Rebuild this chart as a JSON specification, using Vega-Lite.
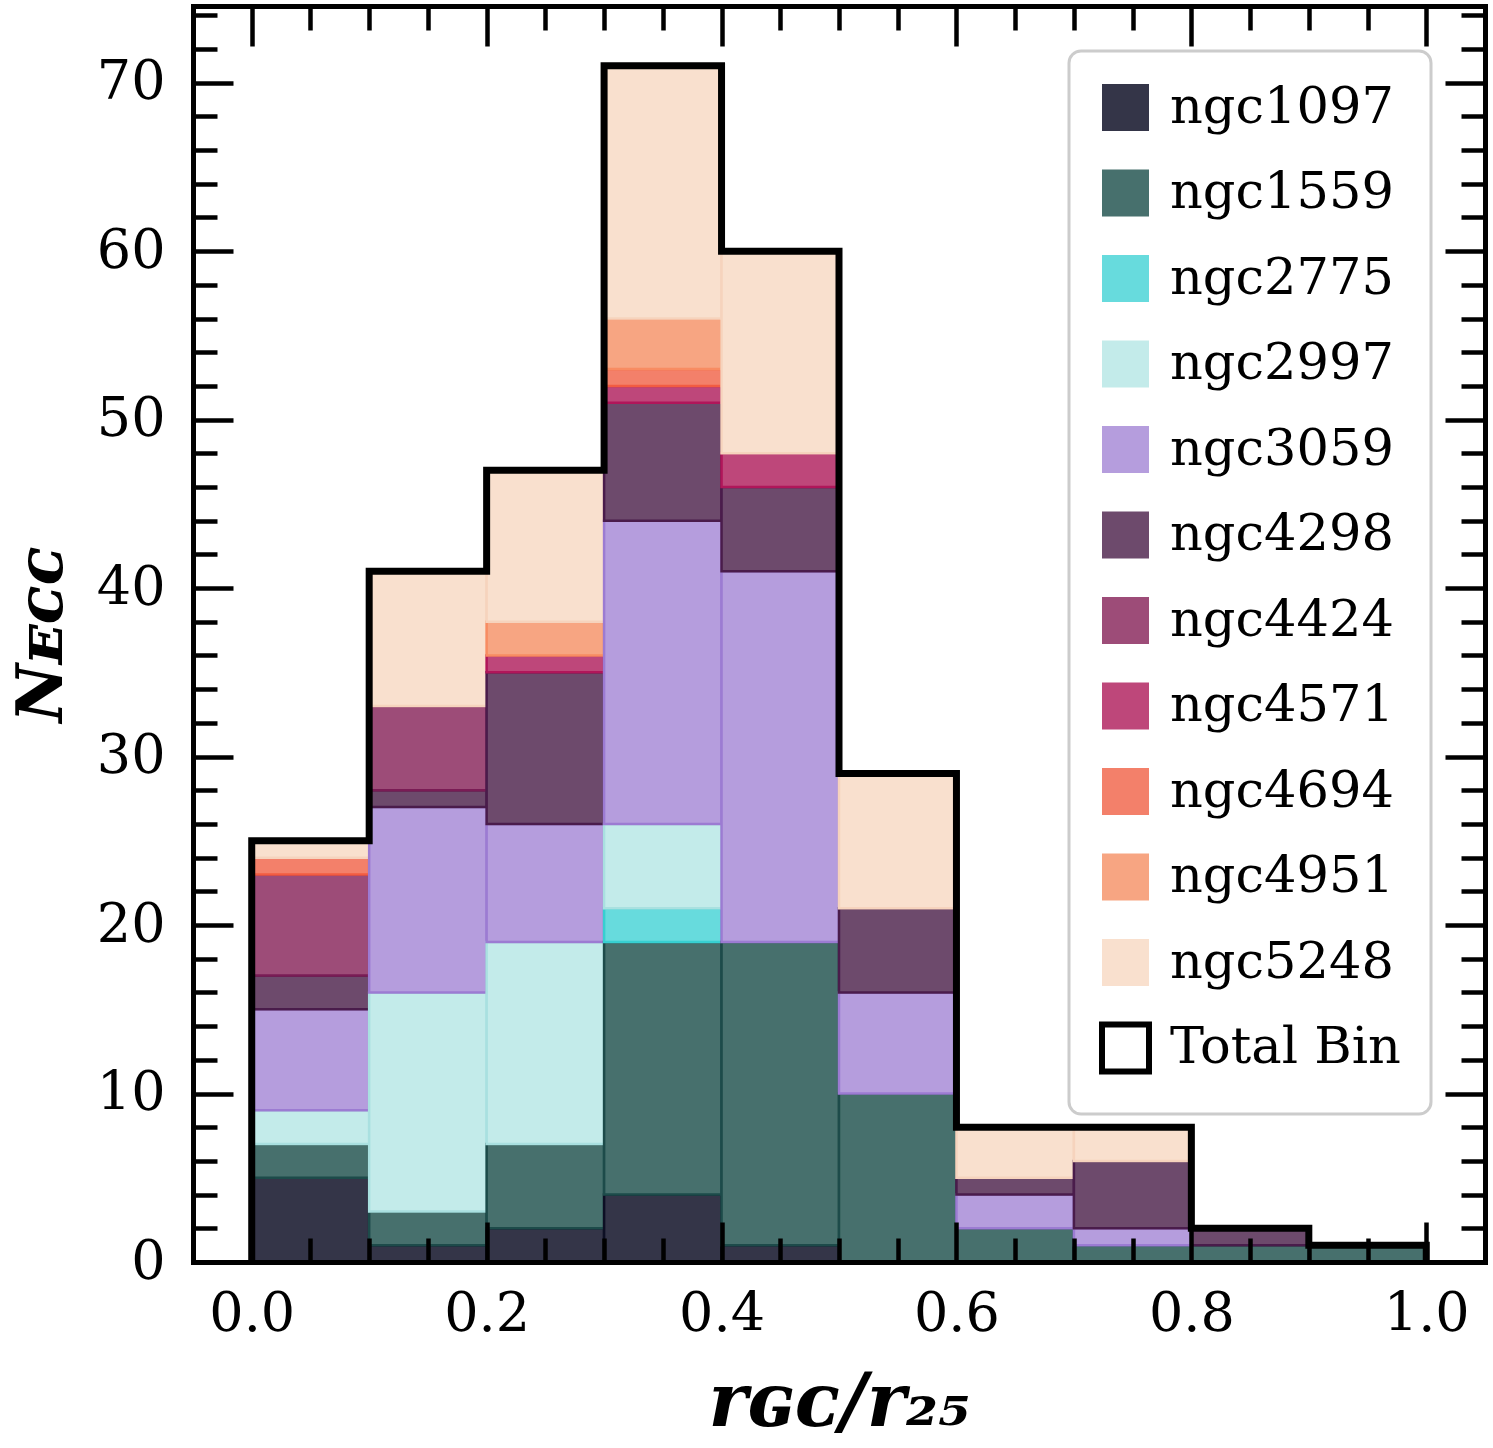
{
  "$schema": "https://vega.github.io/schema/vega-lite/v6.json",
  "autosize": {"type": "none"},
  "padding": {"left": 193, "top": 6, "right": 8, "bottom": 186},
  "width": 1292,
  "height": 1256,
  "background": "white",
  "config": {"view": {"stroke": null}, "font": "DejaVu Serif"},
  "datasets": {
    "bins": [
      {"r0": 0.0, "r1": 0.1, "galaxy": "ngc1097", "n": 5},
      {"r0": 0.0, "r1": 0.1, "galaxy": "ngc1559", "n": 2},
      {"r0": 0.0, "r1": 0.1, "galaxy": "ngc2997", "n": 2},
      {"r0": 0.0, "r1": 0.1, "galaxy": "ngc3059", "n": 6},
      {"r0": 0.0, "r1": 0.1, "galaxy": "ngc4298", "n": 2},
      {"r0": 0.0, "r1": 0.1, "galaxy": "ngc4424", "n": 6},
      {"r0": 0.0, "r1": 0.1, "galaxy": "ngc4694", "n": 1},
      {"r0": 0.0, "r1": 0.1, "galaxy": "ngc5248", "n": 1},
      {"r0": 0.1, "r1": 0.2, "galaxy": "ngc1097", "n": 1},
      {"r0": 0.1, "r1": 0.2, "galaxy": "ngc1559", "n": 2},
      {"r0": 0.1, "r1": 0.2, "galaxy": "ngc2997", "n": 13},
      {"r0": 0.1, "r1": 0.2, "galaxy": "ngc3059", "n": 11},
      {"r0": 0.1, "r1": 0.2, "galaxy": "ngc4298", "n": 1},
      {"r0": 0.1, "r1": 0.2, "galaxy": "ngc4424", "n": 5},
      {"r0": 0.1, "r1": 0.2, "galaxy": "ngc5248", "n": 8},
      {"r0": 0.2, "r1": 0.3, "galaxy": "ngc1097", "n": 2},
      {"r0": 0.2, "r1": 0.3, "galaxy": "ngc1559", "n": 5},
      {"r0": 0.2, "r1": 0.3, "galaxy": "ngc2997", "n": 12},
      {"r0": 0.2, "r1": 0.3, "galaxy": "ngc3059", "n": 7},
      {"r0": 0.2, "r1": 0.3, "galaxy": "ngc4298", "n": 9},
      {"r0": 0.2, "r1": 0.3, "galaxy": "ngc4571", "n": 1},
      {"r0": 0.2, "r1": 0.3, "galaxy": "ngc4951", "n": 2},
      {"r0": 0.2, "r1": 0.3, "galaxy": "ngc5248", "n": 9},
      {"r0": 0.3, "r1": 0.4, "galaxy": "ngc1097", "n": 4},
      {"r0": 0.3, "r1": 0.4, "galaxy": "ngc1559", "n": 15},
      {"r0": 0.3, "r1": 0.4, "galaxy": "ngc2775", "n": 2},
      {"r0": 0.3, "r1": 0.4, "galaxy": "ngc2997", "n": 5},
      {"r0": 0.3, "r1": 0.4, "galaxy": "ngc3059", "n": 18},
      {"r0": 0.3, "r1": 0.4, "galaxy": "ngc4298", "n": 7},
      {"r0": 0.3, "r1": 0.4, "galaxy": "ngc4571", "n": 1},
      {"r0": 0.3, "r1": 0.4, "galaxy": "ngc4694", "n": 1},
      {"r0": 0.3, "r1": 0.4, "galaxy": "ngc4951", "n": 3},
      {"r0": 0.3, "r1": 0.4, "galaxy": "ngc5248", "n": 15},
      {"r0": 0.4, "r1": 0.5, "galaxy": "ngc1097", "n": 1},
      {"r0": 0.4, "r1": 0.5, "galaxy": "ngc1559", "n": 18},
      {"r0": 0.4, "r1": 0.5, "galaxy": "ngc3059", "n": 22},
      {"r0": 0.4, "r1": 0.5, "galaxy": "ngc4298", "n": 5},
      {"r0": 0.4, "r1": 0.5, "galaxy": "ngc4571", "n": 2},
      {"r0": 0.4, "r1": 0.5, "galaxy": "ngc5248", "n": 12},
      {"r0": 0.5, "r1": 0.6, "galaxy": "ngc1559", "n": 10},
      {"r0": 0.5, "r1": 0.6, "galaxy": "ngc3059", "n": 6},
      {"r0": 0.5, "r1": 0.6, "galaxy": "ngc4298", "n": 5},
      {"r0": 0.5, "r1": 0.6, "galaxy": "ngc5248", "n": 8},
      {"r0": 0.6, "r1": 0.7, "galaxy": "ngc1559", "n": 2},
      {"r0": 0.6, "r1": 0.7, "galaxy": "ngc3059", "n": 2},
      {"r0": 0.6, "r1": 0.7, "galaxy": "ngc4298", "n": 1},
      {"r0": 0.6, "r1": 0.7, "galaxy": "ngc5248", "n": 3},
      {"r0": 0.7, "r1": 0.8, "galaxy": "ngc1559", "n": 1},
      {"r0": 0.7, "r1": 0.8, "galaxy": "ngc3059", "n": 1},
      {"r0": 0.7, "r1": 0.8, "galaxy": "ngc4298", "n": 4},
      {"r0": 0.7, "r1": 0.8, "galaxy": "ngc5248", "n": 2},
      {"r0": 0.8, "r1": 0.9, "galaxy": "ngc1559", "n": 1},
      {"r0": 0.8, "r1": 0.9, "galaxy": "ngc4298", "n": 1},
      {"r0": 0.9, "r1": 1.0, "galaxy": "ngc1559", "n": 1}
    ],
    "totals": [
      {"r": 0.0, "n": 0},
      {"r": 0.0, "n": 25},
      {"r": 0.1, "n": 41},
      {"r": 0.2, "n": 47},
      {"r": 0.3, "n": 71},
      {"r": 0.4, "n": 60},
      {"r": 0.5, "n": 29},
      {"r": 0.6, "n": 8},
      {"r": 0.7, "n": 8},
      {"r": 0.8, "n": 2},
      {"r": 0.9, "n": 1},
      {"r": 1.0, "n": 0}
    ]
  },
  "resolve": {"scale": {"x": "independent", "y": "independent"}},
  "layer": [
    {
      "data": {"name": "bins"},
      "transform": [
        {"stack": "n", "groupby": ["r0"], "sort": [{"field": "galaxy", "order": "ascending"}], "as": ["n_lo", "n_hi"]}
      ],
      "mark": {"type": "bar", "strokeWidth": 2.5, "opacity": 1},
      "encoding": {
        "x": {
          "field": "r0", "type": "quantitative",
          "scale": {"domain": [-0.05, 1.05], "nice": false, "zero": false},
          "axis": {
            "orient": "bottom",
            "values": [0, 0.05, 0.1, 0.15, 0.2, 0.25, 0.3, 0.35, 0.4, 0.45, 0.5, 0.55, 0.6, 0.65, 0.7, 0.75, 0.8, 0.85, 0.9, 0.95, 1],
            "tickSize": {"condition": {"test": "abs(datum.value*5 - round(datum.value*5)) < 0.001", "value": -40}, "value": -24},
            "tickWidth": 4.5, "tickColor": "black",
            "labelExpr": "abs(datum.value*5 - round(datum.value*5)) < 0.001 ? format(datum.value, '.1f') : ''",
            "labelFontSize": 54, "labelFont": "DejaVu Serif", "labelColor": "black",
            "labelPadding": 65, "labelOverlap": false, "labelFlush": false,
            "domain": true, "domainWidth": 5, "domainColor": "black", "domainCap": "square",
            "grid": false, "zindex": 1,
            "title": "rɢᴄ/r₂₅", "titleFontSize": 74, "titleFont": "DejaVu Serif",
            "titleFontStyle": "italic", "titleFontWeight": "bold", "titleColor": "black", "titlePadding": 10
          }
        },
        "x2": {"field": "r1"},
        "y": {
          "field": "n_lo", "type": "quantitative",
          "scale": {"domain": [0, 74.55], "nice": false},
          "axis": {
            "orient": "left",
            "values": [0, 2, 4, 6, 8, 10, 12, 14, 16, 18, 20, 22, 24, 26, 28, 30, 32, 34, 36, 38, 40, 42, 44, 46, 48, 50, 52, 54, 56, 58, 60, 62, 64, 66, 68, 70, 72, 74],
            "tickSize": {"condition": {"test": "datum.value % 10 === 0", "value": -40}, "value": -24},
            "tickWidth": 4.5, "tickColor": "black",
            "labelExpr": "datum.value % 10 === 0 ? datum.label : ''",
            "labelFontSize": 54, "labelFont": "DejaVu Serif", "labelColor": "black",
            "labelPadding": 68, "labelOverlap": false, "labelFlush": false,
            "domain": true, "domainWidth": 5, "domainColor": "black", "domainCap": "square",
            "grid": false, "zindex": 1,
            "title": "Nᴇᴄᴄ", "titleFontSize": 64, "titleFont": "DejaVu Serif",
            "titleFontStyle": "italic", "titleFontWeight": "bold", "titleColor": "black", "titlePadding": 22
          }
        },
        "y2": {"field": "n_hi"},
        "fill": {
          "field": "galaxy", "type": "nominal",
          "scale": {
            "domain": ["ngc1097", "ngc1559", "ngc2775", "ngc2997", "ngc3059", "ngc4298", "ngc4424", "ngc4571", "ngc4694", "ngc4951", "ngc5248", "Total Bin"],
            "range": ["#343548", "#47706d", "#67dbdd", "#c3ebea", "#b59ddd", "#6d4a6c", "#9d4c78", "#be477a", "#f3806a", "#f7a582", "#f9e0ce", "#ffffff"]
          },
          "legend": {
            "orient": "none", "legendX": 876, "legendY": 45,
            "title": null, "symbolType": "square", "symbolSize": 2209,
            "labelFontSize": 51, "labelFont": "DejaVu Serif", "labelColor": "black", "labelLimit": 500,
            "labelOffset": 18, "rowPadding": 14.5, "padding": 30,
            "fillColor": "white", "strokeColor": "#cccccc", "cornerRadius": 12,
            "symbolOpacity": 1,
            "encode": {
              "symbols": {"update": {
                "strokeWidth": {"value": 6},
                "stroke": {"value": "#000000"},
                "strokeOpacity": {"signal": "datum.value === 'Total Bin' ? 1 : 0.001"}
              }},
              "legend": {"update": {"strokeWidth": {"value": 3}}}
            }
          }
        },
        "stroke": {
          "field": "galaxy", "type": "nominal",
          "scale": {
            "domain": ["ngc1097", "ngc1559", "ngc2775", "ngc2997", "ngc3059", "ngc4298", "ngc4424", "ngc4571", "ngc4694", "ngc4951", "ngc5248", "Total Bin"],
            "range": ["#0d0f24", "#1d4b4a", "#37cfd1", "#a9e0e0", "#9c7bd2", "#4a1c4b", "#7a1c55", "#b0165a", "#f25c42", "#f88c62", "#f6d3bd", "#000000"]
          },
          "legend": null
        }
      }
    },
    {
      "data": {"name": "totals"},
      "mark": {"type": "line", "interpolate": "step-after", "color": "black", "strokeWidth": 7, "strokeJoin": "miter", "strokeCap": "butt"},
      "encoding": {
        "x": {
          "field": "r", "type": "quantitative",
          "scale": {"domain": [-0.05, 1.05], "nice": false, "zero": false},
          "axis": {
            "orient": "top",
            "values": [0, 0.05, 0.1, 0.15, 0.2, 0.25, 0.3, 0.35, 0.4, 0.45, 0.5, 0.55, 0.6, 0.65, 0.7, 0.75, 0.8, 0.85, 0.9, 0.95, 1],
            "tickSize": {"condition": {"test": "abs(datum.value*5 - round(datum.value*5)) < 0.001", "value": -40}, "value": -24},
            "tickWidth": 4.5, "tickColor": "black",
            "labels": false,
            "domain": true, "domainWidth": 5, "domainColor": "black", "domainCap": "square",
            "grid": false, "zindex": 1, "title": null
          }
        },
        "y": {
          "field": "n", "type": "quantitative",
          "scale": {"domain": [0, 74.55], "nice": false},
          "axis": {
            "orient": "right",
            "values": [0, 2, 4, 6, 8, 10, 12, 14, 16, 18, 20, 22, 24, 26, 28, 30, 32, 34, 36, 38, 40, 42, 44, 46, 48, 50, 52, 54, 56, 58, 60, 62, 64, 66, 68, 70, 72, 74],
            "tickSize": {"condition": {"test": "datum.value % 10 === 0", "value": -40}, "value": -24},
            "tickWidth": 4.5, "tickColor": "black",
            "labels": false,
            "domain": true, "domainWidth": 5, "domainColor": "black", "domainCap": "square",
            "grid": false, "zindex": 1, "title": null
          }
        },
        "order": {"value": null}
      }
    }
  ]
}
